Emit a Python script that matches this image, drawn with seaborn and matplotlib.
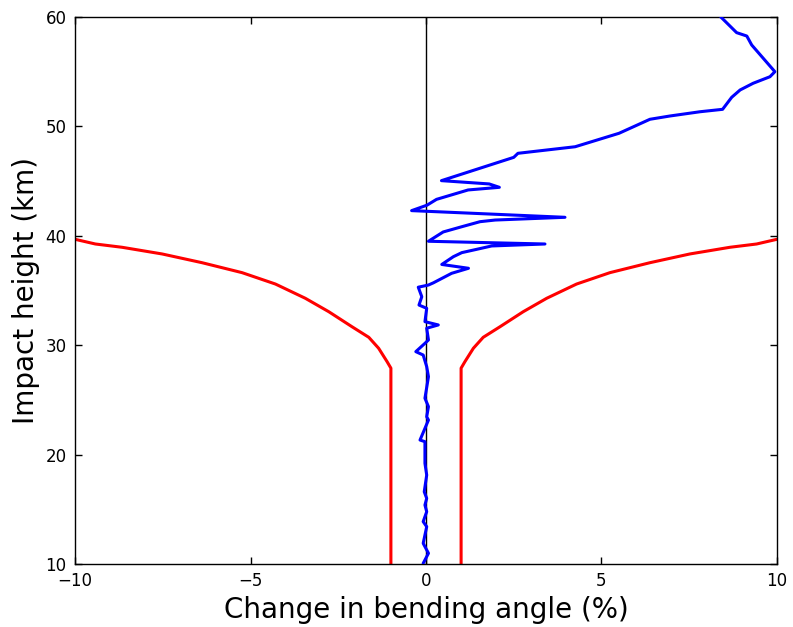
import numpy as np
import pandas as pd
import matplotlib
matplotlib.use("Agg")
import matplotlib.pyplot as plt
import seaborn as sns

sns.set_style("ticks")
plt.rcParams['font.family'] = ['DejaVu Sans']

# Bending angle change profile (%) vs impact height (km)
blue_x = [-0.08, 0.07, -0.08, 0.02, -0.08, 0.02, -0.03, 0.02, -0.05, 0.02,
          -0.03, -0.03, -0.17, 0.07, 0.02, 0.07, -0.03, 0.07, 0.02, -0.08,
          -0.29, -0.03, 0.07, 0.02, 0.35, -0.03, 0.02, -0.2, -0.12, -0.22,
          0.07, 0.21, 0.73, 1.21, 0.45, 0.78, 1.02, 1.44, 1.87, 3.39,
          0.07, 0.49, 1.02, 1.54, 1.97, 3.96, -0.41, 0.03, 0.3, 1.2,
          2.09, 1.80, 0.44, 2.5, 2.62, 4.25, 5.5, 6.38, 6.95, 7.81,
          8.45, 8.71, 8.95, 9.32, 9.80, 9.94, 9.28, 9.14, 8.85, 8.4]
blue_y = [10.06, 10.98, 11.89, 13.41, 13.87, 14.78, 15.39, 16.0, 16.6, 18.13,
          19.2, 21.18, 21.33, 23.16, 23.46, 24.38, 25.15, 27.12, 28.04, 29.1,
          29.41, 30.17, 30.48, 31.55, 31.85, 32.15, 33.37, 33.67, 34.43, 35.3,
          35.5, 35.7, 36.57, 37.03, 37.38, 38.09, 38.46, 38.76, 39.07, 39.25,
          39.5, 40.35, 40.83, 41.29, 41.44, 41.69, 42.3, 42.8, 43.33, 44.19,
          44.43, 44.74, 45.04, 47.17, 47.54, 48.14, 49.37, 50.65, 50.95, 51.34,
          51.56, 52.66, 53.33, 53.94, 54.54, 55.0, 57.44, 58.26, 58.57, 60.0]

# Threshold envelope (positive side), mirrored for negative side
bound_x = [1.0, 1.0, 1.11, 1.35, 1.63, 2.11, 2.77, 3.44, 4.29, 5.24,
           6.38, 7.52, 8.66, 9.42, 10.0]
bound_y = [10.0, 27.9, 28.5, 29.72, 30.72, 31.69, 33.06, 34.29, 35.59, 36.63,
           37.54, 38.34, 38.95, 39.25, 39.68]

fig = plt.figure(figsize=(7.93, 6.27), dpi=100)
ax = fig.add_axes([0.0946, 0.1005, 0.8852, 0.8724])

ax.axvline(0, color="black", lw=1.0, zorder=1)
sns.lineplot(x=blue_x, y=blue_y, sort=False, estimator=None, color="blue", lw=2.2, ax=ax, zorder=3)
sns.lineplot(x=bound_x, y=bound_y, sort=False, estimator=None, color="red", lw=2.2, ax=ax)
sns.lineplot(x=[-v for v in bound_x], y=bound_y, sort=False, estimator=None, color="red", lw=2.2, ax=ax)

ax.set_xlim(-10, 10)
ax.set_ylim(10, 60)
ax.set_xticks([-10, -5, 0, 5, 10])
ax.set_yticks([10, 20, 30, 40, 50, 60])
ax.tick_params(direction="in", top=True, right=True, length=5, width=1,
               labelsize=12, pad=6, colors="black")
for s in ax.spines.values():
    s.set_linewidth(1.0)
    s.set_color("black")
ax.set_xlabel("Change in bending angle (%)", fontsize=20, color="black")
ax.set_ylabel("Impact height (km)", fontsize=20, color="black")

fig.savefig("out.png", dpi=100)
